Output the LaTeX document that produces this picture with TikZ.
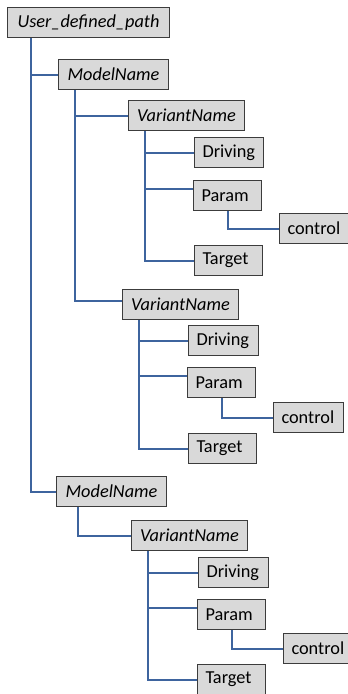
\documentclass[tikz,border=0pt]{standalone}
\usepackage{fontspec}
\setmainfont{Carlito}
\definecolor{linkblue}{RGB}{62,100,158}
\definecolor{boxgray}{RGB}{217,217,217}
\definecolor{edgegray}{RGB}{60,60,60}
\begin{document}
\begin{tikzpicture}[x=1pt,y=-1pt,
    box/.style={draw=edgegray,fill=boxgray,line width=1pt,anchor=north west,
      minimum height=30pt,inner xsep=8pt,inner ysep=0pt,font=\fontsize{18.3}{22}\selectfont},
    dir/.style={box,font=\fontsize{18.3}{22}\selectfont\itshape},
    leaf/.style={box,text width=52pt,align=left},
    link/.style={draw=linkblue,line width=2pt}]
    \useasboundingbox (0,0) rectangle (348,694);
    % folders
    \node[dir,minimum width=162pt] (root) at (7,7) {User\_defined\_path};
    \node[dir,minimum width=110pt] (m1) at (58,59) {ModelName};
    \node[dir,minimum width=116pt] (v1) at (128,100) {VariantName};
    \node[dir,minimum width=116pt] (v2) at (122,289) {VariantName};
    \node[dir,minimum width=110pt] (m2) at (56,476) {ModelName};
    \node[dir,minimum width=116pt] (v3) at (131,520) {VariantName};
    % leaves
    \node[leaf,text width=53pt] (d1) at (194,137) {Driving};
    \node[leaf] (p1) at (193,180) {Param};
    \node[leaf,text width=53pt] (c1) at (279,213) {control};
    \node[leaf] (t1) at (194,245) {Target};
    \node[leaf,text width=54pt] (d2) at (188,325) {Driving};
    \node[leaf] (p2) at (187,367) {Param};
    \node[leaf,text width=54pt] (c2) at (273,402) {control};
    \node[leaf] (t2) at (188,433) {Target};
    \node[leaf,text width=54pt] (d3) at (198,557) {Driving};
    \node[leaf] (p3) at (197,599) {Param};
    \node[leaf,text width=54pt] (c3) at (283,633) {control};
    \node[leaf] (t3) at (197,664) {Target};
    % connectors
    \draw[link] ([xshift=24pt]root.south west) |- (m1.west);
    \draw[link] ([xshift=24pt]root.south west) |- (m2.west);
    \draw[link] ([xshift=17pt]m1.south west) |- (v1.west);
    \draw[link] ([xshift=17pt]m1.south west) |- ([yshift=4pt]v2.west);
    \draw[link] ([xshift=22pt]m2.south west) |- (v3.west);
    \foreach \i in {1,2,3} {
      \draw[link] ([xshift=17pt]v\i.south west) |- (d\i.west);
      \draw[link] ([xshift=17pt]v\i.south west) |- ([yshift=7pt]p\i.west);
      \draw[link] ([xshift=17pt]v\i.south west) |- (t\i.west);
      \draw[link] ([xshift=35pt]p\i.south west) |- (c\i.west);
    }
\end{tikzpicture}
\end{document}
